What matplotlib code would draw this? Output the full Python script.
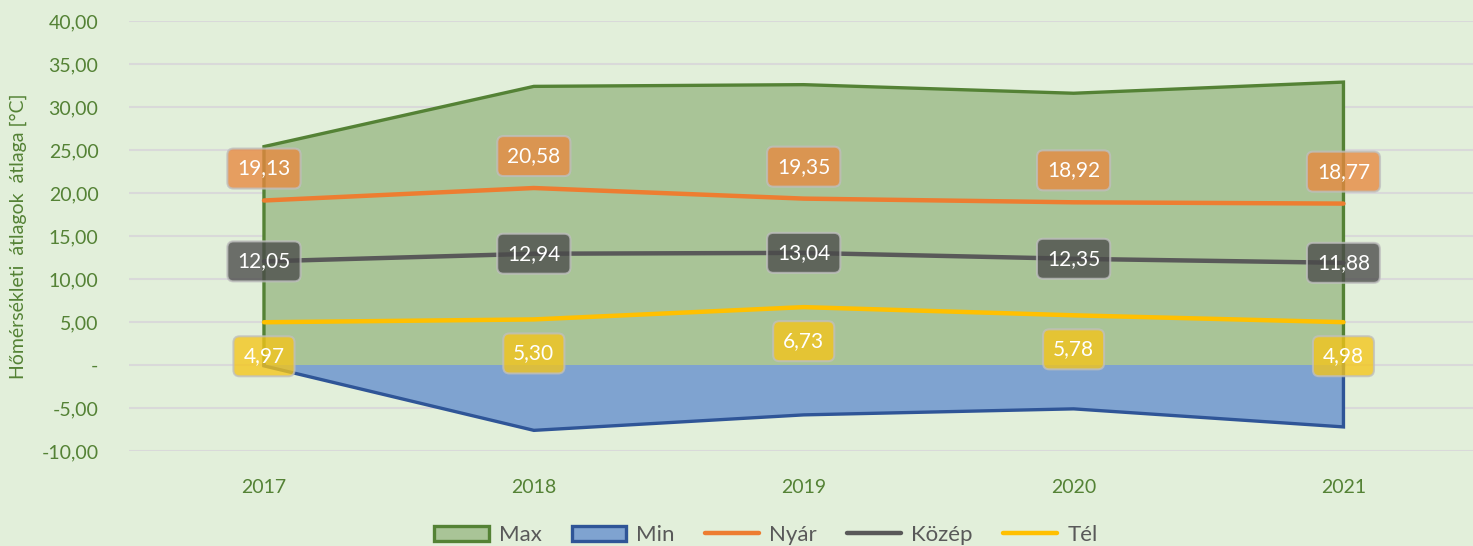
import matplotlib
matplotlib.use("Agg")
import matplotlib.pyplot as plt
from matplotlib.ticker import FuncFormatter, MultipleLocator
from matplotlib.patches import Patch
from matplotlib.lines import Line2D

years = ["2017", "2018", "2019", "2020", "2021"]
max_vals = [25.4, 32.4, 32.6, 31.6, 32.9]
min_vals = [-0.1, -7.6, -5.8, -5.1, -7.2]
nyar = [19.13, 20.58, 19.35, 18.92, 18.77]
kozep = [12.05, 12.94, 13.04, 12.35, 11.88]
tel = [4.97, 5.30, 6.73, 5.78, 4.98]

BG = "#E2EFDA"
GREEN_TXT = "#548235"
plt.rcParams['font.family'] = ['Lato', 'DejaVu Sans']

fig = plt.figure(figsize=(14.73, 5.46), dpi=100, facecolor=BG)
ax = fig.add_axes([0.0876, 0.174, 0.9124, 0.7875], facecolor=BG)

x = list(range(len(years)))

ax.fill_between(x, 0, max_vals, facecolor="#A9C497", edgecolor="none", zorder=2)
ax.plot([x[0]] + x + [x[-1]], [0] + max_vals + [0], color="#548235", lw=2.4, zorder=3, solid_joinstyle="miter")
ax.fill_between(x, 0, min_vals, facecolor="#7FA3D0", edgecolor="none", zorder=2)
ax.plot([x[0]] + x + [x[-1]], [0] + min_vals + [0], color="#2F5597", lw=2.4, zorder=3, solid_joinstyle="miter")

ax.plot(x, nyar, color="#ED7D31", lw=3.2, solid_capstyle="round", zorder=4)
ax.plot(x, kozep, color="#595959", lw=3.2, solid_capstyle="round", zorder=4)
ax.plot(x, tel, color="#FFC000", lw=3.2, solid_capstyle="round", zorder=4)

def fmt(v):
    return f"{v:.2f}".replace(".", ",")

def label(xi, yi, dy, fc):
    ax.annotate(fmt(yi), (xi, yi), xytext=(0, dy), textcoords="offset points",
                ha="center", va="center", fontsize=15, color="white", zorder=6,
                bbox=dict(boxstyle="round,pad=0.48,rounding_size=0.3", fc=fc, ec="#BFBFBF",
                          lw=1.5, alpha=0.78))

for xi, v in zip(x, nyar):
    label(xi, v, 23, "#E8883E")
for xi, v in zip(x, kozep):
    label(xi, v, 0, "#4A4A4A")
for xi, v in zip(x, tel):
    label(xi, v, -24.5, "#F5C518")

ax.set_xlim(-0.5, 4.48)
ax.set_ylim(-10, 40)
ax.yaxis.set_major_locator(MultipleLocator(5))
ax.yaxis.set_major_formatter(FuncFormatter(lambda v, p: "-" if abs(v) < 1e-9 else fmt(v)))
ax.set_xticks(x)
ax.set_xticklabels(years)
ax.grid(axis="y", color="#D9D9D9", lw=1.5, zorder=0)
ax.set_axisbelow(True)
for s in ax.spines.values():
    s.set_visible(False)
ax.tick_params(axis="both", length=0, colors=GREEN_TXT, labelsize=14)
ax.tick_params(axis="y", pad=22)
ax.tick_params(axis="x", pad=20)
ax.set_ylabel("Hőmérsékleti  átlagok  átlaga [°C]", color=GREEN_TXT, fontsize=14, labelpad=10)

handles = [
    Patch(facecolor="#A9C497", edgecolor="#548235", lw=2.4, label="Max"),
    Patch(facecolor="#7FA3D0", edgecolor="#2F5597", lw=2.4, label="Min"),
    Line2D([], [], color="#ED7D31", lw=3.2, solid_capstyle="round", label="Nyár"),
    Line2D([], [], color="#595959", lw=3.2, solid_capstyle="round", label="Közép"),
    Line2D([], [], color="#FFC000", lw=3.2, solid_capstyle="round", label="Tél"),
]
leg = fig.legend(handles=handles, loc="lower center", bbox_to_anchor=(0.52, -0.035), ncol=5,
                 frameon=False, fontsize=16, handlelength=2.45, handleheight=0.7,
                 columnspacing=1.35, handletextpad=0.45)
for t in leg.get_texts():
    t.set_color("#595959")

fig.savefig("out.png", dpi=100, facecolor=BG)
